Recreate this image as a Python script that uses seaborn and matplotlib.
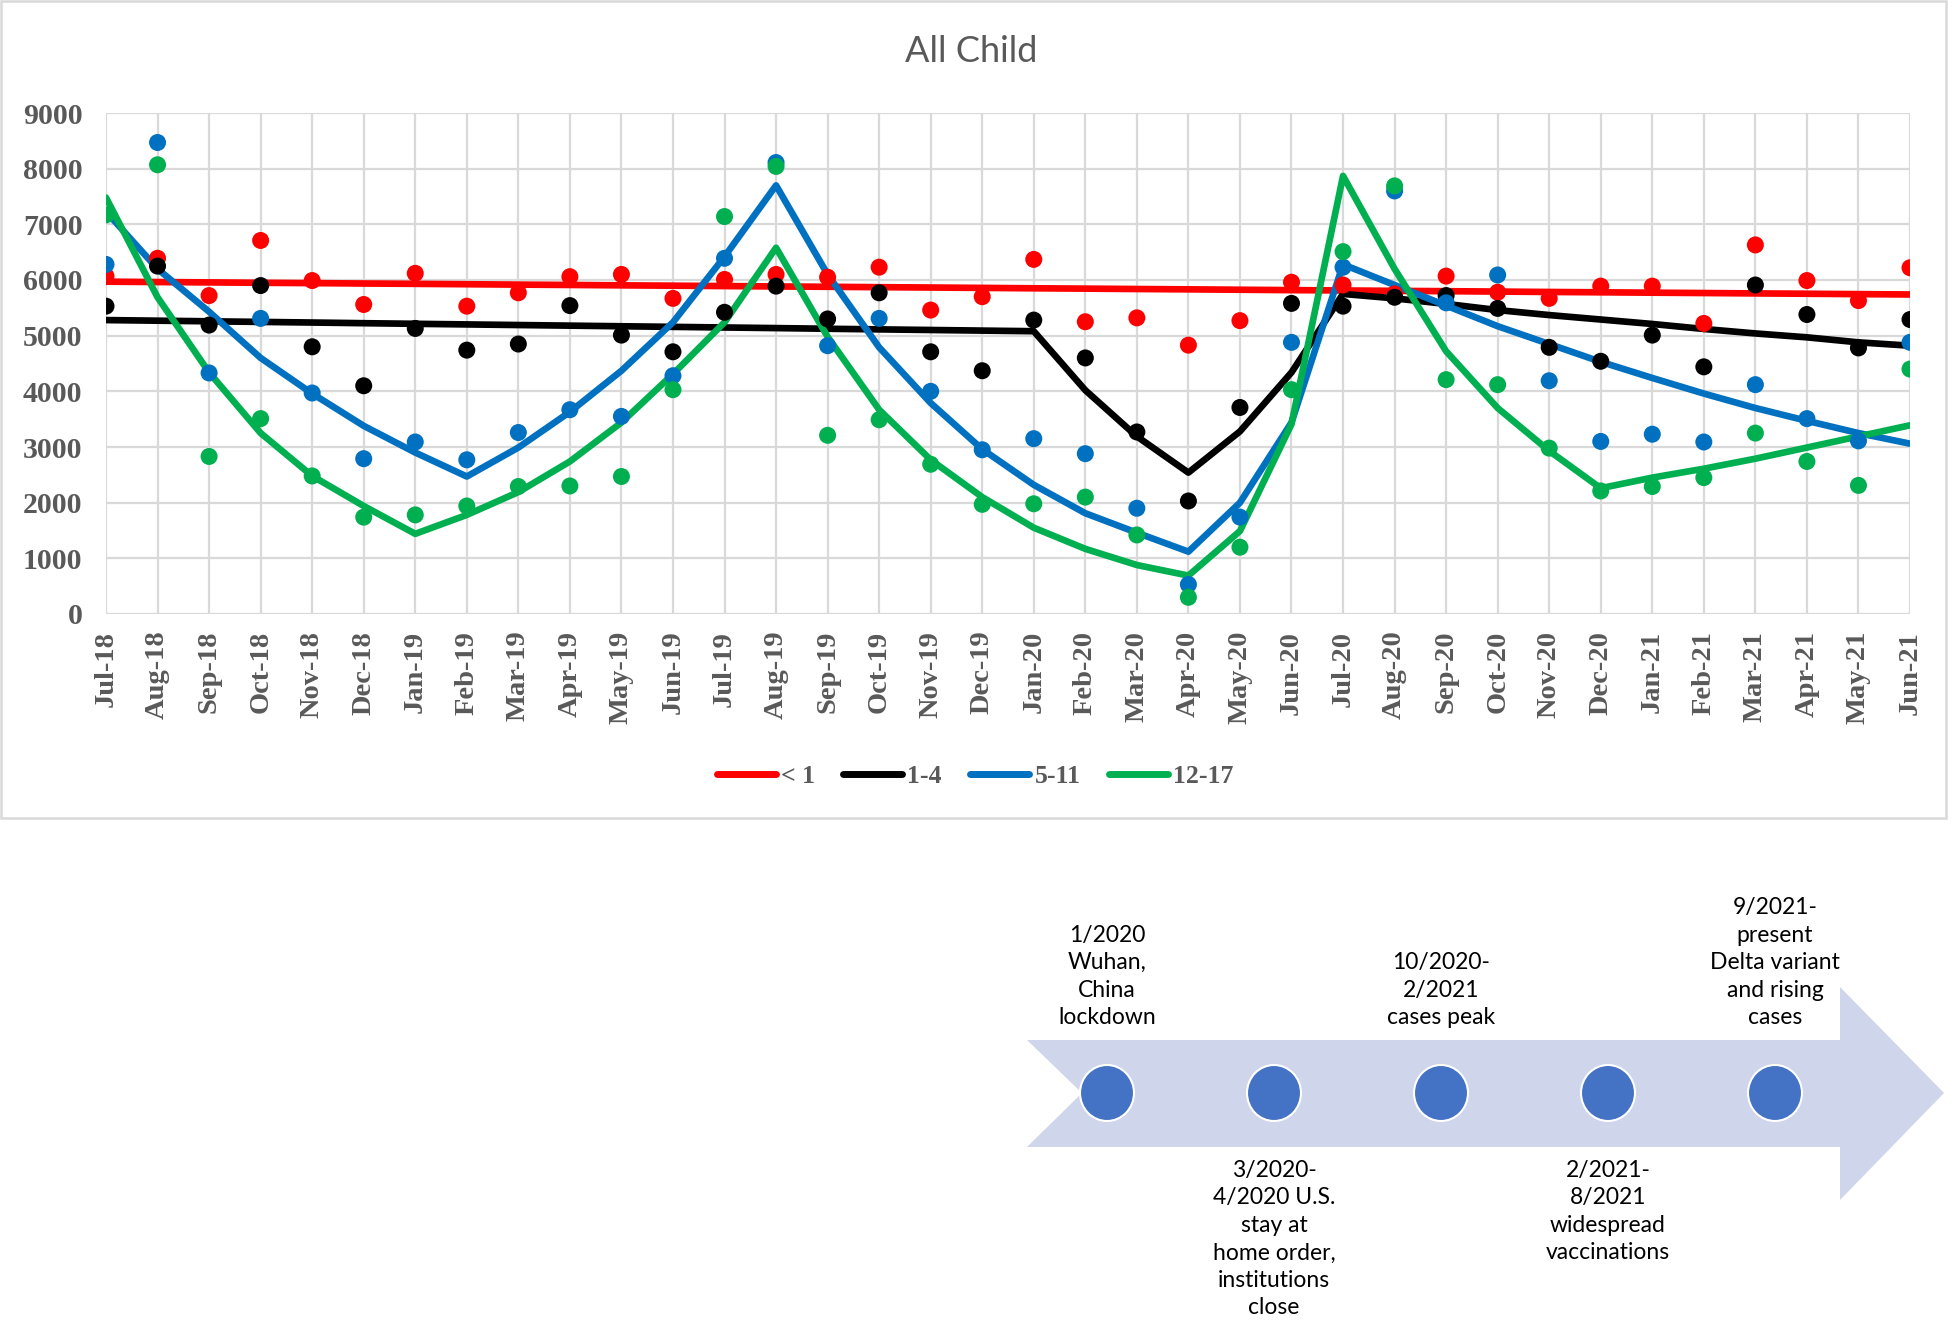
import pandas as pd
import numpy as np
import matplotlib
matplotlib.use("Agg")
import matplotlib.pyplot as plt
from matplotlib.lines import Line2D
from matplotlib.patches import Polygon, Ellipse, Rectangle
import seaborn as sns

# ---------------------------------------------------
# Data
# ---------------------------------------------------
months = ["Jul-18", "Aug-18", "Sep-18", "Oct-18", "Nov-18", "Dec-18",
          "Jan-19", "Feb-19", "Mar-19", "Apr-19", "May-19", "Jun-19",
          "Jul-19", "Aug-19", "Sep-19", "Oct-19", "Nov-19", "Dec-19",
          "Jan-20", "Feb-20", "Mar-20", "Apr-20", "May-20", "Jun-20",
          "Jul-20", "Aug-20", "Sep-20", "Oct-20", "Nov-20", "Dec-20",
          "Jan-21", "Feb-21", "Mar-21", "Apr-21", "May-21", "Jun-21"]

groups = ["< 1", "1-4", "5-11", "12-17"]
colors = ["#ff0000", "#000000", "#0070c0", "#00b050"]

# monthly counts (dots)
under1 = [6070, 6390, 5720, 6710, 5990, 5560, 6120, 5530, 5770, 6060, 6100, 5670,
          6010, 6100, 6050, 6230, 5460, 5700, 6370, 5250, 5320, 4830, 5270, 5960,
          5910, 5750, 6070, 5780, 5670, 5890, 5890, 5220, 6630, 5990, 5630, 6220]
age1_4 = [5530, 6250, 5190, 5900, 4800, 4100, 5130, 4740, 4850, 5540, 5010, 4710,
          5420, 5890, 5300, 5770, 4710, 4370, 5280, 4600, 3270, 2030, 3710, 5580,
          5530, 5690, 5720, 5490, 4790, 4540, 5010, 4440, 5910, 5380, 4780, 5290]
age5_11 = [6280, 8470, 4330, 5310, 3970, 2790, 3090, 2770, 3260, 3670, 3550, 4280,
           6390, 8110, 4820, 5310, 4000, 2950, 3150, 2880, 1900, 530, 1740, 4880,
           6230, 7600, 5590, 6090, 4190, 3100, 3230, 3090, 4120, 3510, 3110, 4880]
age12_17 = [7170, 8070, 2830, 3510, 2480, 1740, 1780, 1940, 2290, 2300, 2470, 4030,
            7140, 8040, 3210, 3490, 2690, 1970, 1980, 2100, 1420, 300, 1200, 4030,
            6510, 7690, 4210, 4120, 2980, 2210, 2290, 2450, 3250, 2740, 2310, 4400]

# fitted trend lines
trend_under1 = [5970, 5963, 5957, 5950, 5944, 5937, 5931, 5924, 5917, 5911, 5904, 5898,
                5891, 5884, 5878, 5871, 5865, 5858, 5851, 5845, 5838, 5832, 5825, 5818,
                5812, 5805, 5799, 5792, 5785, 5779, 5772, 5766, 5759, 5753, 5746, 5740]
trend_1_4 = [5280, 5269, 5258, 5247, 5236, 5224, 5213, 5202, 5191, 5180, 5169, 5158,
             5147, 5136, 5124, 5113, 5102, 5091, 5080, 4020, 3190, 2540, 3280, 4340,
             5750, 5670, 5570, 5460, 5370, 5290, 5210, 5120, 5040, 4970, 4880, 4820]
trend_5_11 = [7230, 6200, 5430, 4600, 3960, 3380, 2900, 2470, 2990, 3630, 4370, 5240,
              6420, 7700, 6100, 4790, 3790, 2960, 2320, 1810, 1460, 1120, 2000, 3440,
              6280, 5910, 5540, 5170, 4850, 4530, 4240, 3960, 3700, 3470, 3250, 3060]
trend_12_17 = [7480, 5690, 4340, 3250, 2480, 1940, 1440, 1780, 2190, 2740, 3440, 4310,
               5240, 6580, 4980, 3670, 2770, 2100, 1550, 1170, 880, 690, 1490, 3410,
               7870, 6200, 4720, 3700, 2930, 2260, 2450, 2610, 2790, 2990, 3190, 3390]

yticks = [0, 1000, 2000, 3000, 4000, 5000, 6000, 7000, 8000, 9000]

# timeline events
events_above = ["1/2020\nWuhan,\nChina\nlockdown",
                "10/2020-\n2/2021\ncases peak",
                "9/2021-\npresent\nDelta variant\nand rising\ncases"]
events_below = ["3/2020-\n4/2020 U.S.\nstay at\nhome order,\ninstitutions\nclose",
                "2/2021-\n8/2021\nwidespread\nvaccinations"]

# long-form tables for seaborn
idx = np.arange(len(months))
points = pd.DataFrame({
    "idx": np.tile(idx, 4),
    "value": under1 + age1_4 + age5_11 + age12_17,
    "group": np.repeat(groups, len(months)),
})
trends = pd.DataFrame({
    "idx": np.tile(idx, 4),
    "value": trend_under1 + trend_1_4 + trend_5_11 + trend_12_17,
    "group": np.repeat(groups, len(months)),
})
palette = dict(zip(groups, colors))

# ---------------------------------------------------
# Figure
# ---------------------------------------------------
sns.set_style("white")
plt.rcParams["font.family"] = ["Liberation Serif", "DejaVu Serif"]

W, H = 1952, 1323
fig = plt.figure(figsize=(W / 100, H / 100), dpi=100)

x0, x1, y0, y1 = 106, 1910, 113, 614
ax = fig.add_axes([x0 / W, 1 - y1 / H, (x1 - x0) / W, (y1 - y0) / H])

sns.lineplot(data=trends, x="idx", y="value", hue="group", palette=palette,
             linewidth=4.8, legend=False, ax=ax, zorder=3)
sns.scatterplot(data=points, x="idx", y="value", hue="group", palette=palette,
                s=150, linewidth=0, legend=False, ax=ax, zorder=4)

ax.set_xlim(0, len(months) - 1)
ax.set_ylim(0, 9000)
ax.set_xticks(idx)
ax.set_xticklabels(months, rotation=90, fontsize=20.5, fontweight="bold", color="#595959")
ax.set_yticks(yticks)
ax.set_yticklabels([str(v) for v in yticks], fontsize=21.5, fontweight="bold", color="#595959")
ax.tick_params(axis="x", length=6, color="#d9d9d9", width=1.5, pad=6)
ax.tick_params(axis="y", length=0, pad=17)
ax.grid(True, color="#d9d9d9", linewidth=1.6)
ax.set_axisbelow(True)
for s in ax.spines.values():
    s.set_visible(False)
ax.set_xlabel("")
ax.set_ylabel("")

fig.text(971 / W, 1 - 52 / H, "All Child", ha="center", va="center",
         fontsize=26, color="#595959", family=["Lato", "DejaVu Sans"])

handles = [Line2D([0], [0], color=c, linewidth=5) for c in colors]
leg = fig.legend(handles, groups, loc="center", bbox_to_anchor=(975 / W, 1 - 776 / H),
                 ncol=4, frameon=False, handlelength=2.3, handletextpad=0.2,
                 columnspacing=1.1, prop={"weight": "bold", "size": 18.5})
for t in leg.get_texts():
    t.set_color("#595959")

# ---------------------------------------------------
# Timeline overlay (pixel coordinates)
# ---------------------------------------------------
ov = fig.add_axes([0, 0, 1, 1], zorder=-1)
ov.set_xlim(0, W)
ov.set_ylim(H, 0)
ov.axis("off")

ov.add_patch(Rectangle((1, 1), 1945, 817, fill=False, edgecolor="#d9d9d9", linewidth=1.8))

arrow = [(1027, 1040), (1840, 1040), (1840, 987), (1944, 1093), (1840, 1200),
         (1840, 1147), (1027, 1147), (1082, 1093)]
ov.add_patch(Polygon(arrow, closed=True, facecolor="#cfd5ea", edgecolor="none"))

cx = [1107, 1274, 1441, 1608, 1775]
for x in cx:
    ov.add_patch(Ellipse((x, 1093), 54, 56, facecolor="#4472c4", edgecolor="white", linewidth=1.5))

tfont = ["Lato", "DejaVu Sans"]
for x, txt in zip([cx[0], cx[2], cx[4]], events_above):
    ov.text(x, 1028, txt, ha="center", va="bottom", multialignment="center",
            fontsize=16.5, linespacing=1.38, family=tfont, color="black")
for x, txt in zip([cx[1], cx[3]], events_below):
    ov.text(x, 1160, txt, ha="center", va="top", multialignment="center",
            fontsize=16.5, linespacing=1.38, family=tfont, color="black")

plt.savefig("out.png", dpi=100)
